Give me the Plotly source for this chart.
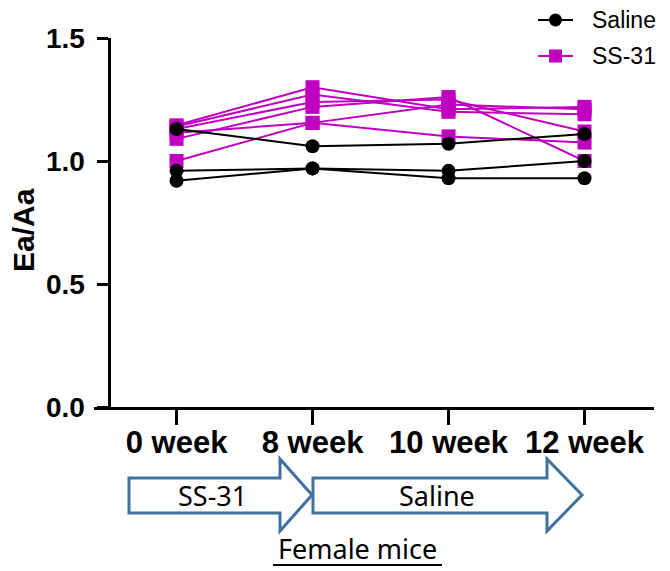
import plotly.graph_objects as go

# ---------------- data ----------------
weeks = ["0 week", "8 week", "10 week", "12 week"]

saline_1 = [1.13, 1.06, 1.07, 1.11]
saline_2 = [0.96, 0.97, 0.96, 1.00]
saline_3 = [0.92, 0.97, 0.93, 0.93]

ss31_1 = [1.145, 1.30, 1.21, 1.22]
ss31_2 = [1.14, 1.27, 1.20, 1.19]
ss31_3 = [1.13, 1.24, 1.25, 1.12]
ss31_4 = [1.09, 1.22, 1.26, 1.00]
ss31_5 = [1.115, 1.155, 1.10, 1.075]
ss31_6 = [1.00, 1.155, 1.23, 1.21]

saline_series = [saline_1, saline_2, saline_3]
ss31_series = [ss31_1, ss31_2, ss31_3, ss31_4, ss31_5, ss31_6]

group_names = ["Saline", "SS-31"]

y_ticks = [0.0, 0.5, 1.0, 1.5]
y_ticktext = ["0.0", "0.5", "1.0", "1.5"]

# ---------------- layout geometry ----------------
# the page body adds an 8px margin, so the figure is drawn 8px smaller
# and all positions below are given in screen pixels
OFF = 8
W, H = 670 - OFF, 571 - OFF
PLOT_L, PLOT_R, PLOT_T, PLOT_B = 94, 654, 38, 407   # screen pixels
L = PLOT_L - OFF
R = 670 - PLOT_R
T = PLOT_T - OFF
B = 571 - PLOT_B
PW, PH = PLOT_R - PLOT_L, PLOT_B - PLOT_T

def px(x):
    return (x - PLOT_L) / PW

def py(y):
    return (PLOT_B - y) / PH

MAGENTA = "#C000C0"
ARROW = "#41719C"

fig = go.Figure()

for s in ss31_series:
    fig.add_trace(go.Scatter(
        x=weeks, y=s, mode="lines+markers", name=group_names[1],
        showlegend=False,
        line=dict(color=MAGENTA, width=2),
        marker=dict(symbol="square", size=14, color=MAGENTA),
    ))

for s in saline_series:
    fig.add_trace(go.Scatter(
        x=weeks, y=s, mode="lines+markers", name=group_names[0],
        showlegend=False,
        line=dict(color="black", width=2),
        marker=dict(symbol="circle", size=14, color="black"),
    ))

shapes = []
def arrow_path(x0, x_head, x_tip, yb_top, yb_bot, yh_top, yh_bot):
    ym = (yh_top + yh_bot) / 2
    pts = [(x0, yb_top), (x_head, yb_top), (x_head, yh_top), (x_tip, ym),
           (x_head, yh_bot), (x_head, yb_bot), (x0, yb_bot)]
    return "M " + " L ".join(f"{px(a):.5f},{py(b):.5f}" for a, b in pts) + " Z"

shapes.append(dict(type="path", xref="paper", yref="paper",
                   path=arrow_path(129, 280, 312, 478, 513, 459, 531),
                   line=dict(color=ARROW, width=3), fillcolor="white", layer="above"))
shapes.append(dict(type="path", xref="paper", yref="paper",
                   path=arrow_path(313, 547, 582, 478, 513, 459, 531),
                   line=dict(color=ARROW, width=3), fillcolor="white", layer="above"))
shapes.append(dict(type="line", xref="paper", yref="paper",
                   x0=px(273), x1=px(442), y0=py(565), y1=py(565),
                   line=dict(color="black", width=2)))

# legend (drawn by hand so it can sit at the very edge)
LEG_X0, LEG_X1, LEG_TX = 538, 573, 590
legend_rows = [(group_names[0], "black", "circle", 20), (group_names[1], MAGENTA, "square", 56)]
annotations = []
for name, col, sym, yy in legend_rows:
    shapes.append(dict(type="line", xref="paper", yref="paper",
                       x0=px(LEG_X0), x1=px(LEG_X1), y0=py(yy), y1=py(yy),
                       line=dict(color=col, width=2)))
    xc, r = (LEG_X0 + LEG_X1) / 2, 6.5
    shapes.append(dict(type=sym if sym == "circle" else "rect", xref="paper", yref="paper",
                       x0=px(xc - r), x1=px(xc + r), y0=py(yy - r), y1=py(yy + r),
                       line=dict(color=col, width=0), fillcolor=col))
    annotations.append(dict(text=name, x=px(LEG_TX), y=py(yy), xref="paper", yref="paper",
                            showarrow=False, xanchor="left", yanchor="middle",
                            font=dict(family="Arial, Liberation Sans", size=23, color="black")))

annotations += [
    dict(text="SS-31", x=px(212), y=py(495), xref="paper", yref="paper",
         showarrow=False, font=dict(family="Noto Sans", size=27, color="black"),
         xanchor="center", yanchor="middle"),
    dict(text="Saline", x=px(437), y=py(495), xref="paper", yref="paper",
         showarrow=False, font=dict(family="Noto Sans", size=27, color="black"),
         xanchor="center", yanchor="middle"),
    dict(text="Female mice", x=px(357), y=py(548), xref="paper", yref="paper",
         showarrow=False, font=dict(family="Noto Sans", size=27, color="black"),
         xanchor="center", yanchor="middle"),
    dict(text="<b>Ea/Aa</b>", x=px(24), y=py(230), xref="paper", yref="paper",
         showarrow=False, textangle=-90,
         font=dict(family="Arial, Liberation Sans", size=30, color="black"),
         xanchor="center", yanchor="middle"),
]

fig.update_layout(
    width=W, height=H,
    margin=dict(l=L, r=R, t=T, b=B, pad=0, autoexpand=False),
    plot_bgcolor="white", paper_bgcolor="white",
    font=dict(family="Arial, Liberation Sans", color="black"),
    showlegend=False,
    shapes=shapes,
    annotations=annotations,
    xaxis=dict(
        type="category", categoryorder="array", categoryarray=weeks,
        range=[-0.607, 3.511],
        showline=True, linecolor="black", linewidth=3,
        ticks="outside", ticklen=15, tickwidth=3, tickcolor="black",
        ticklabelstandoff=-9,
        tickfont=dict(family="Arial, Liberation Sans", size=31, color="black", weight="bold"),
        showgrid=False, zeroline=False,
    ),
    yaxis=dict(
        range=[0, 1.5], anchor="free", position=px(108.5),
        tickvals=y_ticks, ticktext=y_ticktext,
        showline=True, linecolor="black", linewidth=3,
        ticks="outside", ticklen=11, tickwidth=3, tickcolor="black",
        ticklabelstandoff=6,
        tickfont=dict(family="Arial, Liberation Sans", size=28, color="black", weight="bold"),
        showgrid=False, zeroline=False,
    ),
)

fig.write_html("out.html")
